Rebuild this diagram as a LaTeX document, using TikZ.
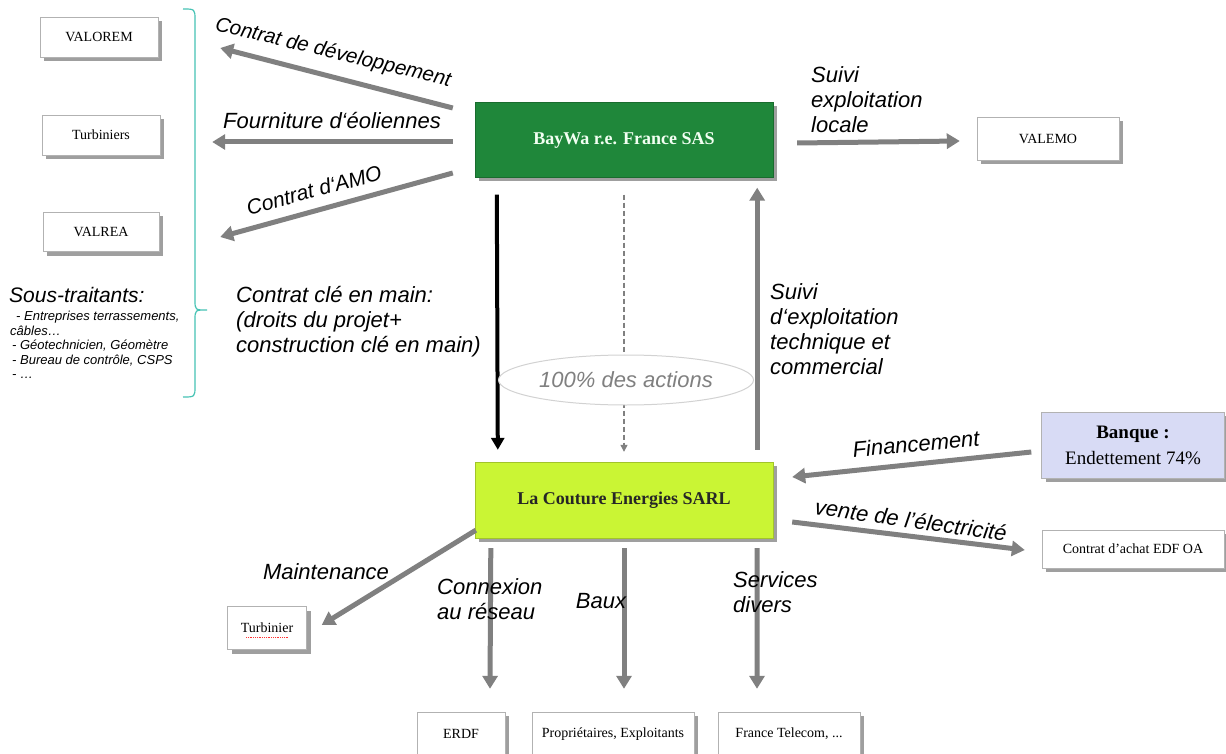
\documentclass[tikz,border=0pt]{standalone}
\usepackage{fontspec}
\setmainfont{Liberation Sans}
\newfontfamily\boxfont{Liberation Serif}
\usetikzlibrary{arrows.meta,calc,shadows,shapes.geometric}
\definecolor{baywagreen}{RGB}{31,135,58}
\definecolor{limegreen}{RGB}{202,245,52}
\definecolor{bankblue}{RGB}{216,219,245}
\definecolor{bracecol}{RGB}{70,195,180}
\definecolor{arrowgray}{RGB}{128,128,128}

\begin{document}
\begin{tikzpicture}[
  x=1pt, y=-1pt,
  box/.style={rectangle, draw=gray!60, fill=white, inner sep=2pt, align=center,
    font=\boxfont\fontsize{14}{17}\selectfont,
    drop shadow={shadow xshift=4pt, shadow yshift=-4pt, fill=gray!75, opacity=1}},
  bigbox/.style={box, minimum width=298pt, minimum height=75pt,
    font=\boxfont\bfseries\fontsize{18}{21}\selectfont},
  lbl/.style={font=\itshape\fontsize{22}{25}\selectfont, align=left, inner sep=0pt},
  flow/.style={draw=arrowgray, line width=5pt, -{Triangle[width=15pt,length=13pt]}}
]
\useasboundingbox (0,0) rectangle (1226,754);
\fill[white] (0,0) rectangle (1226,754);

% boxes
\node[bigbox, fill=baywagreen, draw=baywagreen!80!black, text=green!5] (baywa) at (624,140) {BayWa r.e. France SAS};
\node[bigbox, fill=limegreen, draw=limegreen!80!black, text=black!85, minimum height=76pt] (couture) at (624,500) {La Couture Energies SARL};
\node[box, minimum width=118pt, minimum height=40pt] (valorem) at (99,37) {VALOREM};
\node[box, minimum width=118pt, minimum height=40pt] (turbiniers) at (101,135) {Turbiniers};
\node[box, minimum width=116pt, minimum height=39pt] (valrea) at (101,232) {VALREA};
\node[box, minimum width=142pt, minimum height=43pt] (valemo) at (1048,139) {VALEMO};
\node[box, fill=bankblue, minimum width=183pt, minimum height=66pt,
  font=\boxfont\fontsize{19}{26}\selectfont] (banque) at (1133,445) {\textbf{Banque :}\\Endettement 74\%};
\node[box, minimum width=182pt, minimum height=38pt] (achat) at (1133,549) {Contrat d’achat EDF OA};
\node[box, minimum width=79pt, minimum height=43pt] (turbinier) at (267,628) {Turbinier};
\node[box, minimum width=88pt, minimum height=44pt] (erdf) at (461,734) {ERDF};
\node[box, minimum width=162pt, minimum height=44pt] (proprio) at (613,734) {Propriétaires, Exploitants};
\node[box, minimum width=142pt, minimum height=44pt] (telecom) at (789,734) {France Telecom, ...};
\draw[red!80, densely dotted, line width=0.8pt] ($(turbinier.center)+(-21,9)$) -- ($(turbinier.center)+(21,9)$);

% brace of the sub-contractors
\draw[bracecol, line width=1.2pt] (183,9) .. controls (195,9) .. (195,20) -- (195,300)
  .. controls (195,310) .. (207,310) .. controls (195,310) .. (195,320) -- (195,386)
  .. controls (195,397) .. (183,397);

% arrows
\draw[flow] ([shift={(-22,-32)}]baywa.west) -- ([shift={(62,11)}]valorem.east);
\draw[flow] ([shift={(-22,2)}]baywa.west) -- ([shift={(52,7)}]turbiniers.east);
\draw[flow] ([shift={(-22,33)}]baywa.west) -- ([shift={(61,5)}]valrea.east);
\draw[flow] ([shift={(24,3)}]baywa.east) -- ([shift={(-17,2)}]valemo.west);
\draw[black, line width=4pt, -{Triangle[width=13pt,length=12pt]}] ([shift={(22,17)}]baywa.south west) -- ([shift={(23,-12)}]couture.north west);
\draw[gray, line width=1.2pt, dash pattern=on 5pt off 3pt, -{Triangle[width=7pt,length=7pt]}] ([shift={(0,17)}]baywa.south) -- ([shift={(0,-10)}]couture.north);
\draw[flow] ([shift={(-16,-12)}]couture.north east) -- ([shift={(-16,10)}]baywa.south east);
\draw[flow] ([shift={(-10,7)}]banque.west) -- ([shift={(19,-23)}]couture.east);
\draw[flow] ([shift={(19,22)}]couture.east) -- ([shift={(-17,1)}]achat.west);
\draw[flow] ([shift={(1,-8)}]couture.south west) -- ([shift={(15,-3)}]turbinier.east);
\draw[flow] ([shift={(16,10)}]couture.south west) -- ([shift={(29,-23)}]erdf.north);
\draw[flow] ([shift={(0,10)}]couture.south) -- ([shift={(11,-23)}]proprio.north);
\draw[flow] ([shift={(-16,10)}]couture.south east) -- ([shift={(-32,-23)}]telecom.north);

\node[ellipse, draw=gray!35, fill=white, line width=1pt, minimum width=188pt, minimum height=50pt,
  font=\itshape\fontsize{22}{25}\selectfont, text=gray] (actions) at (626,380) {100\% des actions};

% labels
\node[lbl, rotate=-13.5, font=\itshape\fontsize{20.5}{24}\selectfont] (devlbl) at (333,53) {Contrat de développement};
\node[lbl] (fournlbl) at (332,121) {Fourniture d‘éoliennes};
\node[lbl, rotate=15, font=\itshape\fontsize{21}{24}\selectfont] (amolbl) at (314,190) {Contrat d‘AMO};
\node[lbl, anchor=north west] (locallbl) at (811,66) {Suivi\\exploitation\\locale};
\node[lbl, anchor=north west] (clelbl) at (236,286) {Contrat clé en main:\\(droits du projet+\\construction clé en main)};
\node[lbl, anchor=north west] (techlbl) at (770,283) {Suivi\\d‘exploitation\\technique et\\commercial};
\node[lbl, rotate=5] (finlbl) at (916,444) {Financement};
\node[lbl, rotate=-8] (ventelbl) at (911,520) {vente de l’électricité};
\node[lbl] (maintlbl) at (326,572) {Maintenance};
\node[lbl, anchor=north west] (reseaulbl) at (437,578) {Connexion\\au réseau};
\node[lbl] (bauxlbl) at (601,601) {Baux};
\node[lbl, anchor=north west] (serviceslbl) at (733,571) {Services\\divers};
\node[lbl, anchor=north west, font=\itshape\fontsize{21}{24}\selectfont] (soustr) at (9,287) {Sous-traitants:};
\node[lbl, anchor=north west, font=\itshape\fontsize{13}{14.5}\selectfont] (soustrlist) at (10,311)
  {\hspace*{6pt}- Entreprises terrassements,\\câbles…\\\hspace*{2pt}- Géotechnicien, Géomètre\\\hspace*{2pt}- Bureau de contrôle, CSPS\\\hspace*{2pt}- …};
\end{tikzpicture}
\end{document}
